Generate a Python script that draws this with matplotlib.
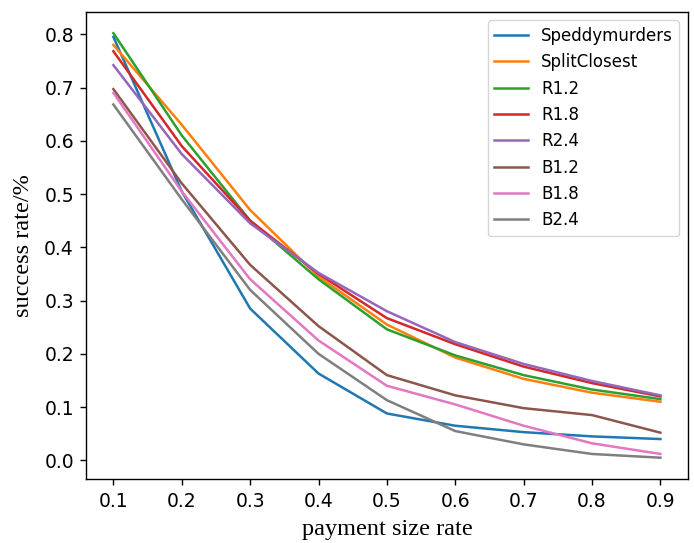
import numpy as np
import matplotlib.pyplot as plt

x = [0.1, 0.2, 0.3, 0.4, 0.5, 0.6, 0.7, 0.8, 0.9]

speddymurders = [0.795, 0.505, 0.285, 0.163, 0.088, 0.065, 0.053, 0.045, 0.040]
splitclosest = [0.780, 0.630, 0.470, 0.345, 0.255, 0.193, 0.153, 0.127, 0.110]
r12 = [0.802, 0.610, 0.450, 0.340, 0.246, 0.197, 0.160, 0.133, 0.115]
r18 = [0.768, 0.590, 0.450, 0.350, 0.267, 0.218, 0.176, 0.145, 0.120]
r24 = [0.742, 0.575, 0.445, 0.352, 0.280, 0.222, 0.181, 0.149, 0.122]
b12 = [0.697, 0.520, 0.367, 0.252, 0.160, 0.122, 0.098, 0.085, 0.052]
b18 = [0.690, 0.505, 0.340, 0.225, 0.140, 0.105, 0.065, 0.032, 0.012]
b24 = [0.668, 0.490, 0.320, 0.200, 0.113, 0.055, 0.030, 0.012, 0.005]

series = [
    ("Speddymurders", speddymurders),
    ("SplitClosest", splitclosest),
    ("R1.2", r12),
    ("R1.8", r18),
    ("R2.4", r24),
    ("B1.2", b12),
    ("B1.8", b18),
    ("B2.4", b24),
]

fig = plt.figure(figsize=(6.94, 5.43), dpi=100)
ax = fig.add_axes([0.124, 0.118, 0.867, 0.860])

for name, vals in series:
    ax.plot(x, vals, label=name, linewidth=1.8)

ax.set_xticks(x)
ax.tick_params(labelsize=13.5, length=4.2, width=1.0)
ax.tick_params(axis="x", pad=5.5)
ax.tick_params(axis="y", pad=4.5)
for s in ax.spines.values():
    s.set_linewidth(1.0)
ax.set_xlabel("payment size rate", family="Liberation Serif", fontsize=17.5, labelpad=5.5)
ax.set_ylabel("success rate/%", family="Liberation Serif", fontsize=17.5, labelpad=7.5)
ax.legend(loc="upper right", fontsize=12)

fig.savefig("out.png")
